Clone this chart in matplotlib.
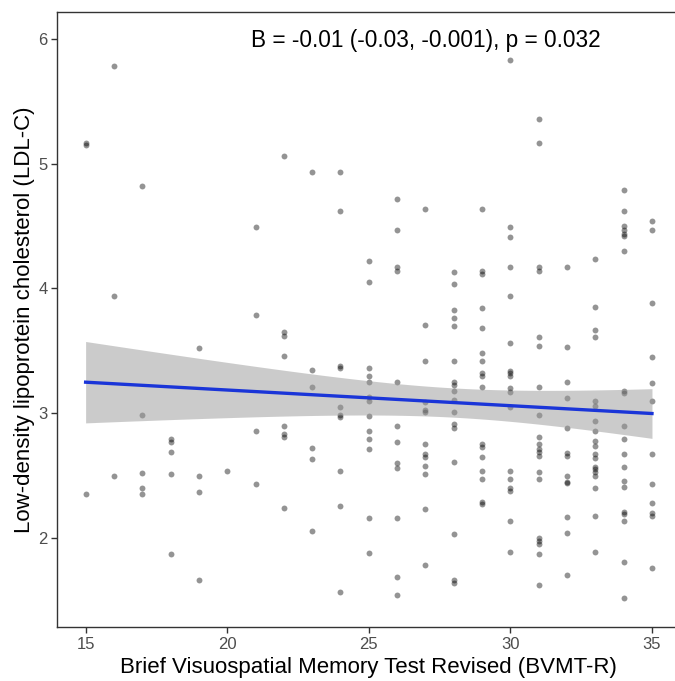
import numpy as np
import matplotlib
matplotlib.use('Agg')
import matplotlib.pyplot as plt

# BVMT-R score (x) and LDL-C (y), grouped by score
bvmt = ([15] * 3 + [16] * 3 + [17] * 5 + [18] * 5 + [19] * 4 + [20] * 1 + [21] * 4
        + [22] * 8 + [23] * 6 + [24] * 10 + [25] * 13 + [26] * 12 + [27] * 13
        + [28] * 17 + [29] * 17 + [30] * 18 + [31] * 20 + [32] * 13 + [33] * 19
        + [34] * 20 + [35] * 12)
ldl = [
    5.15, 5.17, 2.35,
    5.78, 3.94, 2.50,
    4.82, 2.99, 2.52, 2.40, 2.35,
    2.79, 2.77, 2.69, 2.51, 1.87,
    3.52, 2.50, 2.37, 1.66,
    2.54,
    4.49, 3.79, 2.86, 2.43,
    5.06, 3.65, 3.62, 3.46, 2.90, 2.83, 2.81, 2.24,
    4.93, 3.35, 3.21, 2.72, 2.63, 2.06,
    4.93, 4.62, 3.38, 3.36, 3.05, 2.99, 2.97, 2.54, 2.26, 1.57,
    4.22, 4.05, 3.36, 3.30, 3.25, 3.13, 3.10, 2.98, 2.86, 2.79, 2.71, 2.16, 1.88,
    4.72, 4.47, 4.17, 4.14, 3.25, 2.90, 2.77, 2.60, 2.56, 2.16, 1.69, 1.54,
    4.64, 3.71, 3.42, 3.09, 3.03, 3.01, 2.75, 2.67, 2.65, 2.58, 2.51, 2.23, 1.78,
    4.13, 4.04, 3.83, 3.76, 3.70, 3.42, 3.25, 3.23, 3.18, 3.11, 3.01, 2.91, 2.88,
    2.61, 2.03, 1.66, 1.64,
    4.64, 4.14, 4.12, 3.84, 3.68, 3.48, 3.42, 3.32, 3.30, 3.21, 2.75, 2.73, 2.65,
    2.54, 2.47, 2.29, 2.27,
    5.83, 4.49, 4.41, 4.17, 3.94, 3.56, 3.34, 3.32, 3.30, 3.20, 3.17, 3.05, 2.54,
    2.47, 2.40, 2.38, 2.14, 1.89,
    5.36, 5.17, 4.17, 4.14, 3.61, 3.54, 3.21, 2.99, 2.81, 2.75, 2.71, 2.69, 2.66,
    2.53, 2.47, 2.00, 1.98, 1.95, 1.87, 1.62,
    4.17, 3.53, 3.25, 3.12, 2.88, 2.68, 2.66, 2.50, 2.45, 2.44, 2.17, 2.04, 1.70,
    4.24, 3.85, 3.67, 3.61, 3.10, 3.06, 2.94, 2.86, 2.78, 2.74, 2.67, 2.64, 2.57,
    2.55, 2.53, 2.50, 2.40, 2.18, 1.89,
    4.79, 4.62, 4.50, 4.47, 4.44, 4.42, 4.30, 3.18, 3.16, 2.90, 2.79, 2.67, 2.57,
    2.46, 2.41, 2.21, 2.19, 2.14, 1.81, 1.52,
    4.54, 4.47, 3.88, 3.45, 3.24, 3.10, 2.67, 2.43, 2.28, 2.20, 2.18, 1.76,
]
x_ticks = [15, 20, 25, 30, 35]
y_ticks = [2, 3, 4, 5, 6]
stat_label = "B = -0.01 (-0.03, -0.001), p = 0.032"

x = np.array(bvmt, dtype=float)
y = np.array(ldl)

# linear fit with 95% confidence band (like geom_smooth(method = "lm"))
n = len(x)
slope, intercept = np.polyfit(x, y, 1)
resid = y - (intercept + slope * x)
s = np.sqrt(np.sum(resid ** 2) / (n - 2))
xs = np.linspace(x.min(), x.max(), 80)
fit = intercept + slope * xs
se = s * np.sqrt(1 / n + (xs - x.mean()) ** 2 / np.sum((x - x.mean()) ** 2))
tcrit = 1.97
lo, hi = fit - tcrit * se, fit + tcrit * se

plt.rcParams['font.family'] = ['Liberation Sans', 'DejaVu Sans']

fig = plt.figure(figsize=(6.75, 6.81), dpi=100)
ax = fig.add_axes([57.3 / 675, 1 - 627 / 681, 623 / 675, 615 / 681])

ax.scatter(x, y, s=18, color='black', alpha=0.42, linewidths=0, zorder=2)
ax.fill_between(xs, lo, hi, color='#999999', alpha=0.5, linewidth=0, zorder=3)
ax.plot(xs, fit, color='#1a35d8', linewidth=2.4, zorder=4)

ax.text(27, 5.99, stat_label, ha='center', va='center', fontsize=16.3, color='black')

ax.set_xlim(14, 36)
ax.set_ylim(1.287, 6.216)
ax.set_xticks(x_ticks)
ax.set_yticks(y_ticks)
ax.tick_params(colors='#333333', labelcolor='#4d4d4d', labelsize=12, length=4, width=1)
ax.tick_params(axis='x', pad=3.5)
ax.tick_params(axis='y', pad=3)
for sp in ax.spines.values():
    sp.set_color('#333333')
    sp.set_linewidth(1)

ax.set_xlabel("Brief Visuospatial Memory Test Revised (BVMT-R)", fontsize=16, labelpad=3)
ax.set_ylabel("Low-density lipoprotein cholesterol (LDL-C)", fontsize=16, labelpad=2.5)

fig.savefig("out.png", dpi=100)
plt.close(fig)
